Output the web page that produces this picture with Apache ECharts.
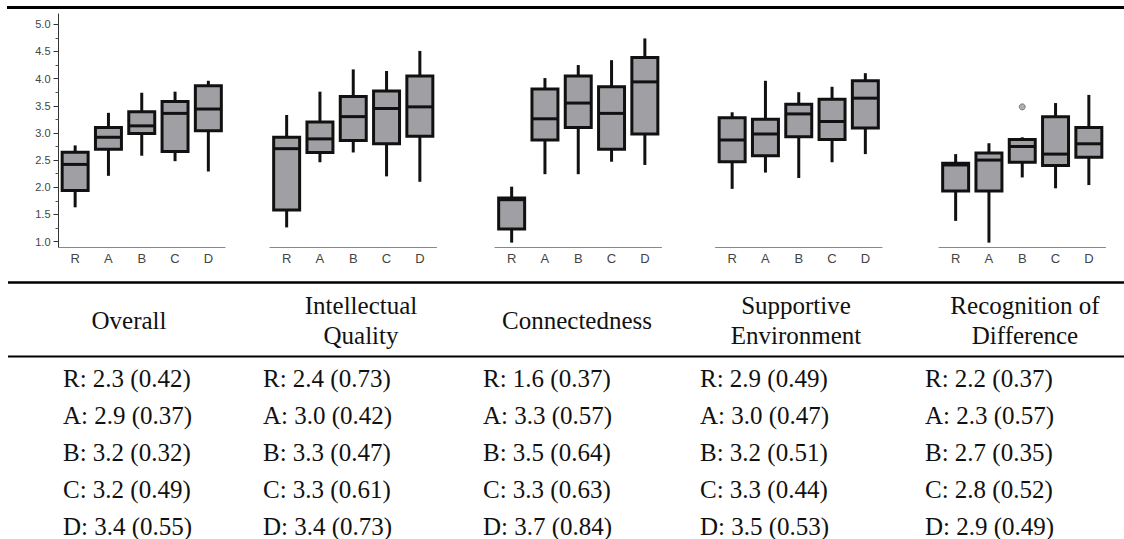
<!DOCTYPE html>
<html><head><meta charset="utf-8">
<script src="https://cdn.jsdelivr.net/npm/echarts@6/dist/echarts.min.js"></script>
<style>html,body{margin:0;padding:0;background:#fff}#c{width:1124px;height:539px}</style>
</head><body><div id="c"></div>
<script>
// ---- data ----
const categories = ['R', 'A', 'B', 'C', 'D'];
const yTickValues = [1.0, 1.5, 2.0, 2.5, 3.0, 3.5, 4.0, 4.5, 5.0];
const yMinorTickValues = [1.25, 1.75, 2.25, 2.75, 3.25, 3.75, 4.25, 4.75];
const dimensionNames = ['Overall', 'Intellectual\nQuality', 'Connectedness', 'Supportive\nEnvironment', 'Recognition of\nDifference'];

// box data per category: [min, Q1, median, Q3, max]
const overallBox = [[1.63, 1.94, 2.42, 2.645, 2.77], [2.21, 2.70, 2.92, 3.10, 3.37], [2.58, 2.99, 3.13, 3.39, 3.74], [2.48, 2.66, 3.36, 3.58, 3.76], [2.29, 3.04, 3.44, 3.87, 3.96]];
const intellectualBox = [[1.26, 1.58, 2.71, 2.92, 3.33], [2.46, 2.64, 2.89, 3.20, 3.76], [2.64, 2.86, 3.30, 3.67, 4.17], [2.20, 2.80, 3.45, 3.77, 4.14], [2.10, 2.94, 3.48, 4.05, 4.51]];
const connectednessBox = [[0.98, 1.23, 1.77, 1.80, 2.01], [2.24, 2.87, 3.26, 3.81, 4.01], [2.24, 3.10, 3.55, 4.05, 4.25], [2.47, 2.70, 3.36, 3.85, 4.34], [2.41, 2.98, 3.94, 4.39, 4.74]];
const supportiveBox = [[1.97, 2.47, 2.87, 3.28, 3.38], [2.27, 2.58, 2.98, 3.25, 3.96], [2.17, 2.93, 3.35, 3.53, 3.75], [2.46, 2.88, 3.21, 3.62, 3.85], [2.61, 3.09, 3.64, 3.96, 4.10]];
const recognitionBox = [[1.38, 1.93, 2.41, 2.44, 2.61], [0.98, 1.93, 2.50, 2.63, 2.81], [2.18, 2.46, 2.75, 2.88, 2.92], [1.98, 2.40, 2.61, 3.30, 3.55], [2.04, 2.55, 2.80, 3.10, 3.70]];
const recognitionOutliers = [['B', 3.48]];

// table: mean and (SD)
const overallMean = [2.3, 2.9, 3.2, 3.2, 3.4];
const overallSD = [0.42, 0.37, 0.32, 0.49, 0.55];
const intellectualMean = [2.4, 3.0, 3.3, 3.3, 3.4];
const intellectualSD = [0.73, 0.42, 0.47, 0.61, 0.73];
const connectednessMean = [1.6, 3.3, 3.5, 3.3, 3.7];
const connectednessSD = [0.37, 0.57, 0.64, 0.63, 0.84];
const supportiveMean = [2.9, 3.0, 3.2, 3.3, 3.5];
const supportiveSD = [0.49, 0.47, 0.51, 0.44, 0.53];
const recognitionMean = [2.2, 2.3, 2.7, 2.8, 2.9];
const recognitionSD = [0.37, 0.57, 0.35, 0.52, 0.49];

// ---- layout ----
const boxSets = [overallBox, intellectualBox, connectednessBox, supportiveBox, recognitionBox];
const meanSets = [overallMean, intellectualMean, connectednessMean, supportiveMean, recognitionMean];
const sdSets = [overallSD, intellectualSD, connectednessSD, supportiveSD, recognitionSD];
const gridLefts = [58.5, 270, 495, 715.5, 939];
const gridWidth = 166.5;
const headerCenters = [129, 361, 577, 796, 1025];
const dataLefts = [63, 263, 483, 700, 925];

const serif = 'Liberation Serif';
const sans = 'Liberation Sans';

function renderBox(params, api) {
  const x = api.value(0);
  const lo = api.coord([x, api.value(1)]);
  const q1 = api.coord([x, api.value(2)]);
  const med = api.coord([x, api.value(3)]);
  const q3 = api.coord([x, api.value(4)]);
  const hi = api.coord([x, api.value(5)]);
  const w = api.size([1, 0])[0] * 0.78;
  const cx = lo[0];
  const st = { stroke: '#111', lineWidth: 3 };
  return {
    type: 'group', children: [
      { type: 'line', shape: { x1: cx, y1: hi[1], x2: cx, y2: q3[1] }, style: st },
      { type: 'line', shape: { x1: cx, y1: q1[1], x2: cx, y2: lo[1] }, style: st },
      { type: 'rect', shape: { x: cx - w / 2, y: q3[1], width: w, height: q1[1] - q3[1] }, style: { fill: '#a0a0a4', stroke: '#111', lineWidth: 3 } },
      { type: 'line', shape: { x1: cx - w / 2, y1: med[1], x2: cx + w / 2, y2: med[1] }, style: st }
    ]
  };
}

const grids = [], xAxes = [], yAxes = [], series = [];
boxSets.forEach((set, i) => {
  grids.push({ left: gridLefts[i], width: gridWidth, top: 14, height: 233.5 });
  xAxes.push({
    type: 'category', gridIndex: i, data: categories,
    axisLine: { lineStyle: { color: '#888', width: 1.2 } },
    axisTick: { alignWithLabel: true, length: 3, lineStyle: { color: '#888' } },
    axisLabel: { color: '#444', fontFamily: sans, fontSize: 13, margin: 4 }
  });
  yAxes.push({
    type: 'value', gridIndex: i, min: 0.89, max: 5.19,
    show: i === 0,
    splitLine: { show: false },
    axisLine: { show: true, lineStyle: { color: '#333', width: 1 } },
    axisTick: { show: true, length: 5, customValues: yTickValues, lineStyle: { color: '#333' } },
    axisLabel: { show: true, customValues: yTickValues, color: '#444', fontFamily: sans, fontSize: 11, margin: 8, formatter: v => v.toFixed(1) }
  });
  series.push({
    type: 'custom', xAxisIndex: i, yAxisIndex: i,
    renderItem: renderBox,
    encode: { x: 0, y: [1, 2, 3, 4, 5] },
    data: set.map((b, k) => [k].concat(b))
  });
});
// minor ticks on the first panel's y axis
yAxes.push({
  type: 'value', gridIndex: 0, min: 0.89, max: 5.19, position: 'left', offset: 0,
  splitLine: { show: false }, axisLine: { show: false },
  axisTick: { show: true, length: 3, customValues: yMinorTickValues, lineStyle: { color: '#555' } },
  axisLabel: { show: false }
});
series.push({
  type: 'scatter', xAxisIndex: 4, yAxisIndex: 4,
  data: recognitionOutliers, symbol: 'circle', symbolSize: 6,
  itemStyle: { color: '#9a9a9a', borderColor: '#666', borderWidth: 1 }
});

const graphics = [
  { type: 'line', shape: { x1: 7, y1: 7.5, x2: 1124, y2: 7.5 }, style: { stroke: '#000', lineWidth: 3 } },
  { type: 'line', shape: { x1: 8, y1: 282.5, x2: 1124, y2: 282.5 }, style: { stroke: '#000', lineWidth: 2.5 } },
  { type: 'line', shape: { x1: 8, y1: 356.5, x2: 1124, y2: 356.5 }, style: { stroke: '#000', lineWidth: 2 } }
];
dimensionNames.forEach((name, i) => {
  graphics.push({
    type: 'text', x: headerCenters[i], y: 320,
    style: { text: name, fill: '#111', fontFamily: serif, fontSize: 25, align: 'center', verticalAlign: 'middle', lineHeight: 30 }
  });
  categories.forEach((c, k) => {
    graphics.push({
      type: 'text', x: dataLefts[i], y: 378 + 37 * k,
      style: { text: c + ': ' + meanSets[i][k].toFixed(1) + ' (' + sdSets[i][k].toFixed(2) + ')', fill: '#111', fontFamily: serif, fontSize: 25, align: 'left', verticalAlign: 'middle' }
    });
  });
});

const chart = echarts.init(document.getElementById('c'), null, { renderer: 'svg' });
chart.setOption({
  animation: false,
  backgroundColor: '#fff',
  grid: grids, xAxis: xAxes, yAxis: yAxes, series: series,
  graphic: graphics
});
</script></body></html>
